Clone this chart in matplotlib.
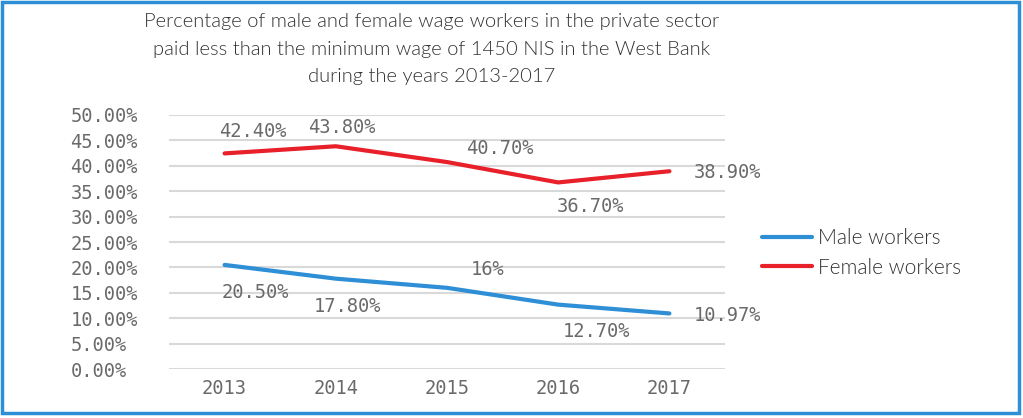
import matplotlib
matplotlib.use("Agg")
import matplotlib.pyplot as plt
from matplotlib.patches import Rectangle

years = ["2013", "2014", "2015", "2016", "2017"]
male = [20.5, 17.8, 16.0, 12.7, 10.97]
female = [42.4, 43.8, 40.7, 36.7, 38.9]
male_labels = ["20.50%", "17.80%", "16%", "12.70%", "10.97%"]
female_labels = ["42.40%", "43.80%", "40.70%", "36.70%", "38.90%"]

# label offsets in pixels (dx, dy) from each point, as placed in the original
male_offsets = [(31, -28), (12, -28), (41, 18), (38, -27), (58, -2)]
female_offsets = [(28, 22), (6, 19), (53, 14), (32, -24), (58, -1)]

blue = "#2E8FD6"
red = "#E8202A"
grey_text = "#6A6A6A"
title_font = ["Lato", "DejaVu Sans"]

fig = plt.figure(figsize=(10.23, 4.18), dpi=100)
ax = fig.add_axes([169 / 1023, 48.7 / 418, 556 / 1023, 254.6 / 418])

x = list(range(len(years)))
ax.plot(x, male, color=blue, lw=3, solid_capstyle="round", label="Male workers")
ax.plot(x, female, color=red, lw=3, solid_capstyle="round", label="Female workers")

for xi, v, lab, off in zip(x, male, male_labels, male_offsets):
    ax.annotate(lab, (xi, v), xytext=off, textcoords="offset pixels",
                ha="center", va="center", fontsize=13.5, color=grey_text,
                family="DejaVu Sans Mono")
for xi, v, lab, off in zip(x, female, female_labels, female_offsets):
    ax.annotate(lab, (xi, v), xytext=off, textcoords="offset pixels",
                ha="center", va="center", fontsize=13.5, color=grey_text,
                family="DejaVu Sans Mono")

ax.set_xlim(-0.5, 4.5)
ax.set_ylim(0, 50)
ax.set_yticks(range(0, 51, 5))
ax.set_yticklabels([f"{v:.2f}%" for v in range(0, 51, 5)])
ax.set_xticks(x)
ax.set_xticklabels(years)
for lbl in ax.get_xticklabels() + ax.get_yticklabels():
    lbl.set_family("DejaVu Sans Mono")
    lbl.set_fontsize(13.5)
    lbl.set_color(grey_text)
ax.tick_params(length=0)
ax.tick_params(axis="x", pad=7)
for lbl in ax.get_yticklabels():
    lbl.set_horizontalalignment("left")
ax.yaxis.set_tick_params(pad=71)
ax.grid(axis="y", color="#D9D9D9", lw=1.5)
ax.set_axisbelow(True)
for s in ax.spines.values():
    s.set_visible(False)

leg = fig.legend(loc="center left", bbox_to_anchor=(743 / 1023, 1 - 253 / 418),
                 frameon=False, handlelength=2.4, handletextpad=0.3,
                 labelspacing=0.45,
                 prop={"family": title_font, "size": 15, "weight": 300})
for t in leg.get_texts():
    t.set_color("#333333")

fig.text(432 / 1023, 1 - 13 / 418,
         "Percentage of male and female wage workers in the private sector\n"
         "paid less than the minimum wage of 1450 NIS in the West Bank\n"
         "during the years 2013-2017",
         ha="center", va="top", fontsize=14.5, color="#333333",
         family=title_font, weight=300, linespacing=1.75)

fig.patches.append(Rectangle((1.5 / 1023, 5 / 418), 1017 / 1023, 411 / 418,
                             transform=fig.transFigure, fill=False,
                             edgecolor=blue, lw=2.5))

fig.savefig("out.png", dpi=100)
